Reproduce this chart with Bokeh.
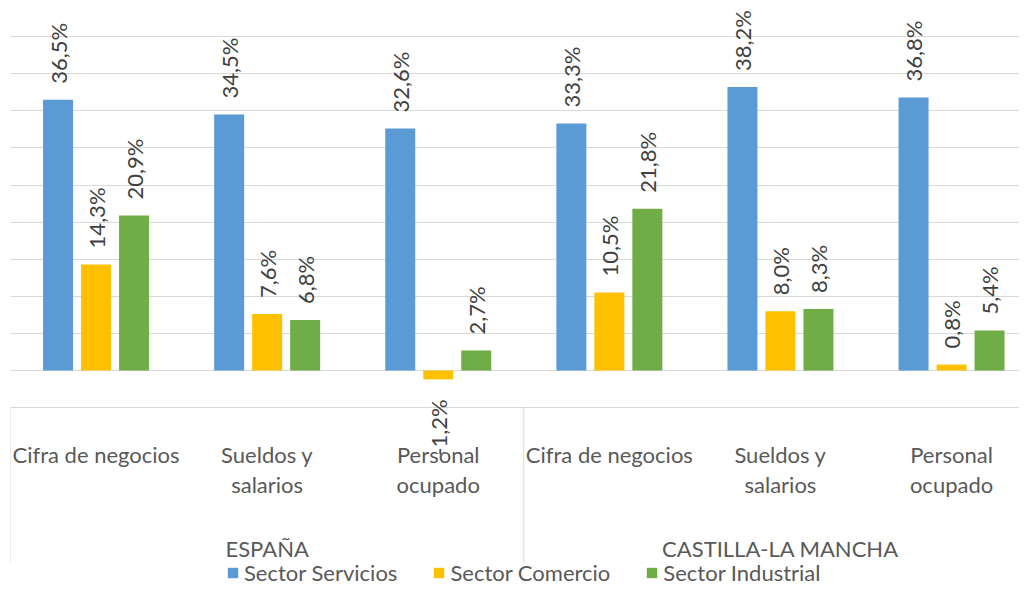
import math
from bokeh.plotting import figure
from bokeh.models import ColumnDataSource, FixedTicker, Legend, LegendItem, Range1d
from bokeh.embed import file_html
from bokeh.resources import INLINE
from bokeh.core.properties import value

# ---------------- data ----------------
groups = ["ESPAÑA", "CASTILLA-LA MANCHA"]
categories = ["Cifra de negocios", "Sueldos y\nsalarios", "Personal\nocupado"]
series_names = ["Sector Servicios", "Sector Comercio", "Sector Industrial"]
servicios = [36.5, 34.5, 32.6, 33.3, 38.2, 36.8]
comercio = [14.3, 7.6, -1.2, 10.5, 8.0, 0.8]
industrial = [20.9, 6.8, 2.7, 21.8, 8.3, 5.4]
grid_ticks = [-5, 0, 5, 10, 15, 20, 25, 30, 35, 40, 45]

colors = ["#5B9BD5", "#FFC000", "#70AD47"]
FONT = "Lato"

# ---------------- layout constants ----------------
W, H = 1019, 589
LEFT = 10
CAT_PX = 171.1          # pixels per category
PX_PER_UNIT = 37.1 / 5  # pixels per percentage point
ZERO_Y = 370            # zero line, from figure top
frame_w = W - LEFT
y_end = ZERO_Y / PX_PER_UNIT
y_start = -(H - ZERO_Y) / PX_PER_UNIT
x_start = -0.5
x_end = -0.5 + frame_w / CAT_PX

p = figure(width=W, height=H, output_backend="svg", toolbar_location=None,
           x_range=Range1d(x_start, x_end), y_range=Range1d(y_start, y_end),
           min_border_left=LEFT, min_border_right=0, min_border_top=0, min_border_bottom=0)
p.xaxis.visible = False
p.yaxis.visible = False
p.xgrid.visible = False
p.ygrid.ticker = FixedTicker(ticks=grid_ticks)
p.ygrid.grid_line_color = "#D9D9D9"
p.ygrid.grid_line_width = 1
p.outline_line_color = None
p.background_fill_color = "white"
p.border_fill_color = "white"

n_cat = len(groups) * len(categories)
xs = list(range(n_cat))
bar_w = 30 / CAT_PX
step = 38 / CAT_PX
all_series = [servicios, comercio, industrial]

# group separators
bounds = [g * len(categories) - 0.5 for g in range(len(groups) + 1)]
sep_bottom = grid_ticks[0] - 155 / PX_PER_UNIT
p.segment(x0=bounds, x1=bounds, y0=[grid_ticks[0]] * len(bounds),
          y1=[sep_bottom] * len(bounds), line_color="#D9D9D9", line_width=1)

# category labels
cat_labels = categories * len(groups)
csrc = ColumnDataSource(dict(x=xs, y=[grid_ticks[0]] * n_cat, t=cat_labels))
p.text(x="x", y="y", text="t", source=csrc, text_align="center",
       text_baseline="top", y_offset=33, line_height=1.14,
       text_font=value(FONT), text_font_size="22px", text_color="#595959")

# group labels
gx = [g * len(categories) + (len(categories) - 1) / 2 for g in range(len(groups))]
gsrc = ColumnDataSource(dict(x=gx, y=[grid_ticks[0]] * len(groups), t=groups))
p.text(x="x", y="y", text="t", source=gsrc, text_align="center",
       text_baseline="middle", y_offset=141,
       text_font=value(FONT), text_font_size="22px", text_color="#595959")

# bars and data labels
renderers = []
for j, (vals, col) in enumerate(zip(all_series, colors)):
    bx = [x + (j - 1) * step for x in xs]
    src = ColumnDataSource(dict(
        x=bx, top=vals,
        label=[("%.1f%%" % v).replace(".", ",") for v in vals],
        align=["left" if v >= 0 else "right" for v in vals],
        yoff=[-16 if v >= 0 else 20 for v in vals],
    ))
    r = p.vbar(x="x", top="top", bottom=0, width=bar_w, source=src,
               fill_color=col, line_color=None)
    renderers.append(r)
    p.text(x="x", y="top", text="label", source=src, angle=math.pi / 2,
           text_align="align", text_baseline="middle", y_offset="yoff",
           text_font=value(FONT), text_font_size="22px", text_color="#404040")

legend = Legend(items=[LegendItem(label=n, renderers=[r]) for n, r in zip(series_names, renderers)],
                orientation="horizontal", location=(216, 3),
                glyph_width=13, glyph_height=13, label_standoff=5, spacing=35,
                padding=0, margin=0, border_line_color=None, background_fill_alpha=0,
                label_text_font=FONT, label_text_font_size="22px", label_text_color="#595959")
p.add_layout(legend)

open("out.html", "w").write(file_html(p, INLINE))
